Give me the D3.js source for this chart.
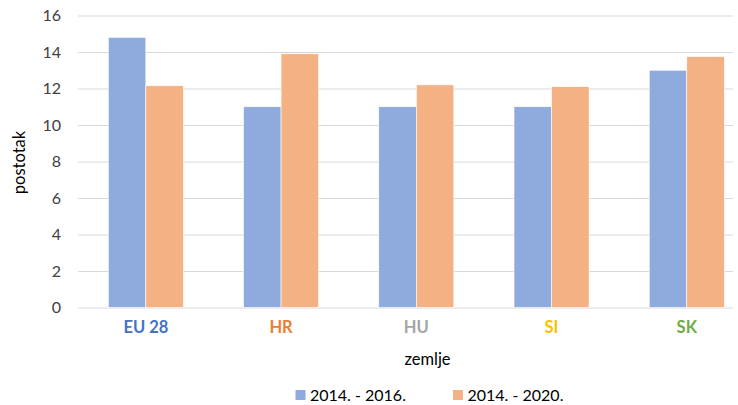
<!DOCTYPE html>
<html>
<head>
<meta charset="utf-8">
<script src="https://cdn.jsdelivr.net/npm/d3@7"></script>
<style>
	body { margin: 0; background: #fff; }
	svg text { font-family: Lato, "Open Sans", sans-serif; fill: #404040; }
</style>
</head>
<body>
<div id="chart"></div>
<script>
// chart data
var countries = ['EU 28', 'HR', 'HU', 'SI', 'SK'];
var countryColors = ['#4472C4', '#ED7D31', '#A5A5A5', '#FFC000', '#70AD47'];
var seriesNames = ['2014. - 2016.', '2014. - 2020.'];
var values2016 = [14.8, 11.0, 11.0, 11.0, 13.0];
var values2020 = [12.15, 13.9, 12.2, 12.1, 13.75];
var yTicks = [0, 2, 4, 6, 8, 10, 12, 14, 16];
var seriesColors = ['#8FAADC', '#F4B183'];

var width = 738,
	height = 405,
	plot = { left: 78, right: 733, top: 15.5, bottom: 307.5 };

var svg = d3.select('#chart')
	.append('svg')
	.attr('width', width)
	.attr('height', height);

// bar groups sit a bit inside the gridlines
var x = d3.scaleBand()
	.domain(countries)
	.range([108.3, 724.3])
	.paddingInner(0.445)
	.paddingOuter(0);

var xInner = d3.scaleBand()
	.domain(seriesNames)
	.range([0, x.bandwidth()]);

var y = d3.scaleLinear()
	.domain([0, 16])
	.range([plot.bottom, plot.top]);

// gridlines + y labels
var yAxis = svg.append('g')
	.attr('transform', 'translate(' + plot.left + ',0)')
	.call(d3.axisLeft(y).tickValues(yTicks).tickSize(-(plot.right - plot.left)).tickPadding(17));

yAxis.select('.domain').remove();
yAxis.selectAll('.tick line').attr('stroke', '#d9d9d9').attr('stroke-width', 1);
yAxis.selectAll('.tick text')
	.style('font-size', '16px')
	.style('fill', '#404040');

// bars
var rows = countries.map(function(c, i) {
	return { country: c, values: [values2016[i], values2020[i]] };
});

var groups = svg.selectAll('g.group')
	.data(rows)
	.enter()
	.append('g')
	.attr('class', 'group')
	.attr('transform', function(d) { return 'translate(' + x(d.country) + ',0)'; });

groups.selectAll('rect')
	.data(function(d) {
		return d.values.map(function(v, j) { return { name: seriesNames[j], value: v, color: seriesColors[j] }; });
	})
	.enter()
	.append('rect')
	.attr('x', function(d) { return xInner(d.name); })
	.attr('y', function(d) { return y(d.value); })
	.attr('width', xInner.bandwidth())
	.attr('height', function(d) { return y(0) - y(d.value); })
	.attr('fill', function(d) { return d.color; })
	.attr('stroke', '#fff')
	.attr('stroke-width', 0.6);

// x labels
var xAxis = svg.append('g')
	.attr('transform', 'translate(0,' + y(0) + ')')
	.call(d3.axisBottom(x).tickSize(0).tickPadding(14));

xAxis.select('.domain').remove();
xAxis.selectAll('.tick text')
	.style('font-size', '16.5px')
	.style('font-weight', 'bold')
	.style('fill', function(d, i) { return countryColors[i]; });

// axis titles
svg.append('text')
	.attr('x', 427.5)
	.attr('y', 365)
	.attr('text-anchor', 'middle')
	.style('font-size', '16.5px')
	.style('fill', '#000')
	.text('zemlje');

svg.append('text')
	.attr('transform', 'translate(24.5,162.5) rotate(-90)')
	.attr('text-anchor', 'middle')
	.style('font-size', '16.5px')
	.style('fill', '#000')
	.text('postotak');

// legend
var legendX = [295.5, 453];
var legend = svg.selectAll('g.legend')
	.data(seriesNames)
	.enter()
	.append('g')
	.attr('class', 'legend')
	.attr('transform', function(d, i) { return 'translate(' + legendX[i] + ',395)'; });

legend.append('rect')
	.attr('x', 0)
	.attr('y', -5)
	.attr('width', 10)
	.attr('height', 10)
	.attr('fill', function(d, i) { return seriesColors[i]; });

legend.append('text')
	.attr('x', 14.5)
	.attr('y', 6)
	.style('font-size', '16px')
	.style('fill', '#000')
	.text(function(d) { return d; });
</script>
</body>
</html>
